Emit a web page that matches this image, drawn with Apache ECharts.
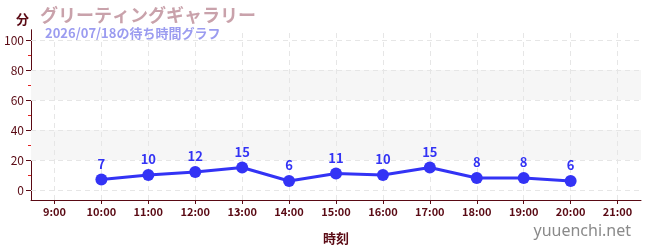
<!DOCTYPE html>
<html><head><meta charset="utf-8">
<script src="https://cdn.jsdelivr.net/npm/echarts@6/dist/echarts.min.js"></script>
<style>html,body{margin:0;padding:0;background:#fff}#c{width:650px;height:250px}</style>
</head><body><div id="c"></div>
<script>
const hours = [10, 11, 12, 13, 14, 15, 16, 17, 18, 19, 20];
const waits = [7, 10, 12, 15, 6, 11, 10, 15, 8, 8, 6];
const xTicks = [9, 10, 11, 12, 13, 14, 15, 16, 17, 18, 19, 20, 21];
const yTicks = [0, 20, 40, 60, 80, 100];
const yMinor = [10, 30, 50, 70, 90];
const bands = [[20, 40], [60, 80]];

const axisColor = '#5a0a14';
const font = "'Noto Sans CJK JP', 'Noto Sans', sans-serif";
const chart = echarts.init(document.getElementById('c'), null, {renderer: 'canvas'});
const yMin = -20 / 3, yMax = 320 / 3;

chart.setOption({
  animation: false,
  textStyle: {fontFamily: font},
  title: [
    {text: 'グリーティングギャラリー', left: 35, top: 1, textStyle: {fontSize: 18, fontWeight: 'bold', color: '#c9a2ab', fontFamily: font}},
    {text: '2026/07/18の待ち時間グラフ', left: 40, top: 22, textStyle: {fontSize: 13, fontWeight: 'bold', color: '#9b9cf0', fontFamily: font}},
    {text: '分', left: 11, top: 8, textStyle: {fontSize: 13, fontWeight: 'bold', color: axisColor, fontFamily: font}},
    {text: 'yuuenchi.net', right: 14, bottom: 6, textStyle: {fontSize: 16, fontWeight: 'normal', color: '#8a8a8a', fontFamily: "'Noto Sans', sans-serif"}}
  ],
  grid: {left: 31, right: 9, top: 30, bottom: 50, containLabel: false},
  xAxis: {
    type: 'value', min: 8.5, max: 21.5,
    name: '時刻', nameLocation: 'middle', nameGap: 32,
    nameTextStyle: {color: axisColor, fontWeight: 'bold', fontSize: 13, fontFamily: font},
    axisLine: {show: true, onZero: false, lineStyle: {color: axisColor, width: 1}},
    axisTick: {show: true, customValues: xTicks, length: 4, lineStyle: {color: axisColor}},
    axisLabel: {customValues: xTicks, color: axisColor, fontWeight: 'bold', fontSize: 11, margin: 6,
      formatter: v => v + ':00', fontFamily: font},
    splitLine: {show: false}
  },
  yAxis: [{
    type: 'value', min: yMin, max: yMax,
    axisLine: {show: true, onZero: false, lineStyle: {color: axisColor, width: 1}},
    axisTick: {show: true, customValues: yTicks, length: 5, lineStyle: {color: axisColor}},
    axisLabel: {customValues: yTicks, color: axisColor, fontSize: 12, margin: 7, fontFamily: font},
    splitLine: {show: false}
  }, {
    type: 'value', min: yMin, max: yMax, position: 'left', offset: 0,
    axisLine: {show: true, onZero: false, lineStyle: {color: axisColor, width: 1}},
    axisTick: {show: true, customValues: yMinor, length: 3, lineStyle: {color: '#e02020', width: 1}},
    axisLabel: {show: false, customValues: yMinor},
    splitLine: {show: false}
  }],
  series: [
    {
      type: 'line', data: [], silent: true,
      markArea: {silent: true, itemStyle: {color: '#f6f6f6'},
        data: bands.map(b => [{yAxis: b[0]}, {yAxis: b[1]}])},
      markLine: {silent: true, symbol: 'none', label: {show: false},
        lineStyle: {color: '#e6e6e6', type: [5, 4], width: 1},
        data: yTicks.map(v => ({yAxis: v})).concat(xTicks.map(v => ({xAxis: v})))}
    },
    {
      type: 'line', data: hours.map((h, i) => [h, waits[i]]),
      symbol: 'circle', symbolSize: 12,
      lineStyle: {color: '#3333f5', width: 3},
      itemStyle: {color: '#3333f5'},
      label: {show: true, position: 'top', distance: 3, color: '#3333f5', fontWeight: 'bold', fontSize: 13, fontFamily: font},
      z: 5
    }
  ]
});
</script></body></html>
